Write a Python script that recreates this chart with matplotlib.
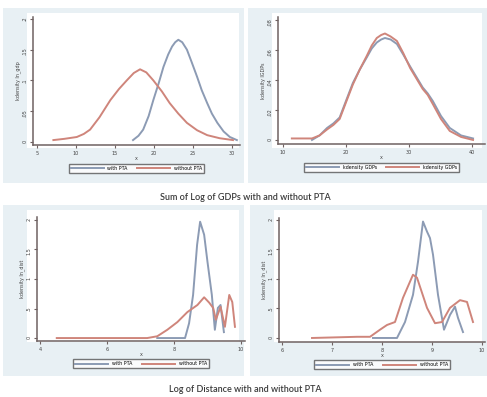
import numpy as np
import matplotlib
matplotlib.use("Agg")
import matplotlib.pyplot as plt
from matplotlib.patches import Rectangle

# ---- data ----
# top left: sum of log GDPs, with / without PTA
gdp_with_x = [17.3, 18.0, 18.6, 19.3, 19.9, 20.6, 21.2, 21.8, 22.3, 22.7, 23.1, 23.6, 24.2,
              24.8, 25.5, 26.1, 26.8, 27.4, 28.1, 28.9, 29.7, 30.6]
gdp_with_y = [0.003, 0.01, 0.02, 0.042, 0.068, 0.096, 0.122, 0.142, 0.155, 0.162, 0.166, 0.162,
              0.15, 0.13, 0.106, 0.084, 0.063, 0.046, 0.031, 0.017, 0.008, 0.003]
gdp_wo_x = [7.1, 8.5, 10.1, 11.0, 11.8, 13.0, 14.4, 15.5, 16.5, 17.4, 18.2, 19.0, 19.9, 21.0,
            22.0, 23.1, 24.2, 25.5, 26.8, 28.4, 30.1]
gdp_wo_y = [0.003, 0.005, 0.008, 0.013, 0.02, 0.04, 0.068, 0.086, 0.10, 0.112, 0.118, 0.113,
            0.10, 0.082, 0.063, 0.046, 0.031, 0.019, 0.011, 0.006, 0.003]

# top right: two kdensity GDPs curves
k1_x = [14.6, 15.8, 17.0, 18.0, 19.0, 20.0, 21.1, 22.2, 23.3, 24.1, 24.9, 25.6, 26.2, 27.1,
        28.1, 29.1, 30.2, 31.2, 32.2, 33.0, 33.8, 35.1, 36.5, 38.3, 40.2]
k1_y = [0.0, 0.003, 0.008, 0.011, 0.015, 0.026, 0.038, 0.047, 0.055, 0.061, 0.065, 0.067,
        0.068, 0.067, 0.064, 0.057, 0.049, 0.042, 0.035, 0.031, 0.026, 0.016, 0.008, 0.003, 0.001]
k2_x = [11.4, 13.0, 14.6, 15.8, 17.0, 18.0, 19.0, 20.0, 21.1, 22.2, 23.3, 24.1, 24.9, 25.6,
        26.2, 27.1, 28.1, 29.1, 30.2, 31.2, 32.2, 33.0, 33.8, 35.1, 36.5, 38.3, 40.2]
k2_y = [0.001, 0.001, 0.001, 0.003, 0.007, 0.010, 0.014, 0.025, 0.037, 0.047, 0.056, 0.063,
        0.068, 0.070, 0.071, 0.069, 0.066, 0.058, 0.048, 0.041, 0.034, 0.030, 0.024, 0.014,
        0.006, 0.002, 0.0]

# bottom left: log distance
dl_with_x = [7.5, 8.33, 8.45, 8.57, 8.69, 8.78, 8.9, 9.0, 9.13, 9.22, 9.31, 9.39, 9.49]
dl_with_y = [0.0, 0.0, 0.25, 0.73, 1.58, 1.97, 1.75, 1.29, 0.73, 0.14, 0.51, 0.56, 0.1]
dl_wo_x = [4.5, 7.2, 7.5, 7.8, 8.1, 8.4, 8.7, 8.9, 9.05, 9.17, 9.25, 9.39, 9.52, 9.65, 9.74, 9.82]
dl_wo_y = [0.0, 0.0, 0.03, 0.14, 0.27, 0.44, 0.56, 0.69, 0.6, 0.51, 0.31, 0.53, 0.19, 0.73, 0.61, 0.19]

# bottom right: log distance
dr_with_x = [7.82, 8.3, 8.46, 8.62, 8.72, 8.82, 8.9, 8.96, 9.02, 9.12, 9.24, 9.36, 9.46, 9.52, 9.62]
dr_with_y = [0.0, 0.0, 0.27, 0.73, 1.29, 1.97, 1.8, 1.69, 1.41, 0.73, 0.14, 0.39, 0.53, 0.34, 0.1]
dr_wo_x = [6.6, 7.5, 7.76, 7.96, 8.1, 8.26, 8.42, 8.62, 8.7, 8.9, 9.06, 9.2, 9.36, 9.56, 9.7, 9.82]
dr_wo_y = [0.0, 0.02, 0.02, 0.14, 0.22, 0.27, 0.68, 1.07, 1.02, 0.51, 0.25, 0.27, 0.51, 0.64, 0.61, 0.27]

blue = "#8c9bb4"
red = "#cf857b"
axc = "#6f6262"
W, H = 487, 397

fig = plt.figure(figsize=(W / 100, H / 100), dpi=100)
fig.patch.set_facecolor("white")


def px(x0, y0, x1, y1):
    return [x0 / W, 1 - y1 / H, (x1 - x0) / W, (y1 - y0) / H]


def panel(bg, box, xlim, ylim, xt, yt, ytl, ylab, s1, s2, labels):
    b = fig.add_axes(px(*bg))
    b.set_facecolor("#e8f0f4")
    b.set_xticks([]); b.set_yticks([])
    for s in b.spines.values():
        s.set_visible(False)
    b.add_patch(Rectangle((0.1, 0.2), 0.88, 0.77, transform=b.transAxes,
                          facecolor="white", edgecolor="none"))
    ax = fig.add_axes(px(*box))
    ax.patch.set_alpha(0)
    ax.plot(s1[0], s1[1], color=blue, lw=1.4, label=labels[0])
    ax.plot(s2[0], s2[1], color=red, lw=1.4, label=labels[1])
    ax.set_xlim(*xlim)
    ax.set_ylim(*ylim)
    ax.set_xticks(xt)
    ax.set_yticks(yt)
    ax.set_yticklabels(ytl)
    for s in ["top", "right"]:
        ax.spines[s].set_visible(False)
    for s in ["left", "bottom"]:
        ax.spines[s].set_color(axc)
        ax.spines[s].set_linewidth(1.1)
    ax.tick_params(colors=axc, labelsize=3.5, length=2.5, width=0.8, pad=1.5,
                   labelcolor="#444444")
    ax.tick_params(axis="y", labelrotation=90)
    ax.set_xlabel("x", fontsize=3.5, color="#444444", labelpad=0.5)
    ax.set_ylabel(ylab, fontsize=3.5, color="#444444", labelpad=1)
    ax.legend(loc="upper center", bbox_to_anchor=(0.5, -0.13), ncol=2,
              fontsize=3.4, frameon=True, fancybox=False, edgecolor="#555555",
              handlelength=7, columnspacing=2, borderpad=0.4)
    return ax


panel((3, 8, 244, 183), (33, 17, 240, 145), (4.49, 31.0), (-0.005, 0.203),
      [5, 10, 15, 20, 25, 30], [0, 0.05, 0.1, 0.15, 0.2], ["0", ".05", ".1", ".15", ".2"],
      "kdensity ln_gdp", (gdp_with_x, gdp_with_y), (gdp_wo_x, gdp_wo_y),
      ["with PTA", "without PTA"])
panel((248, 8, 487, 183), (278, 17, 485, 144), (9.2, 42.1), (-0.0027, 0.082),
      [10, 20, 30, 40], [0, 0.02, 0.04, 0.06, 0.08], ["0", ".02", ".04", ".06", ".08"],
      "kdensity lGDPs", (k1_x, k1_y), (k2_x, k2_y),
      ["kdensity GDPs", "kdensity GDPs"])
panel((3, 205, 244, 376), (37, 217, 245, 341), (3.91, 10.12), (-0.05, 2.05),
      [4, 6, 8, 10], [0, 0.5, 1, 1.5, 2], ["0", ".5", "1", "1.5", "2"],
      "kdensity ln_dist", (dl_with_x, dl_with_y), (dl_wo_x, dl_wo_y),
      ["with PTA", "without PTA"])
panel((250, 205, 487, 376), (279, 218, 485, 342), (5.94, 10.06), (-0.068, 2.03),
      [6, 7, 8, 9, 10], [0, 0.5, 1, 1.5, 2], ["0", ".5", "1", "1.5", "2"],
      "kdensity ln_dist", (dr_with_x, dr_with_y), (dr_wo_x, dr_wo_y),
      ["with PTA", "without PTA"])

fig.text(245 / W, 1 - 197 / H, "Sum of Log of GDPs with and without PTA",
         ha="center", va="center", fontsize=6.5, color="#3a3a3a", family="Lato",
         weight="semibold")
fig.text(245 / W, 1 - 390 / H, "Log of Distance with and without PTA",
         ha="center", va="center", fontsize=6.5, color="#3a3a3a", family="Lato",
         weight="semibold")

fig.savefig("out.png", dpi=100)
